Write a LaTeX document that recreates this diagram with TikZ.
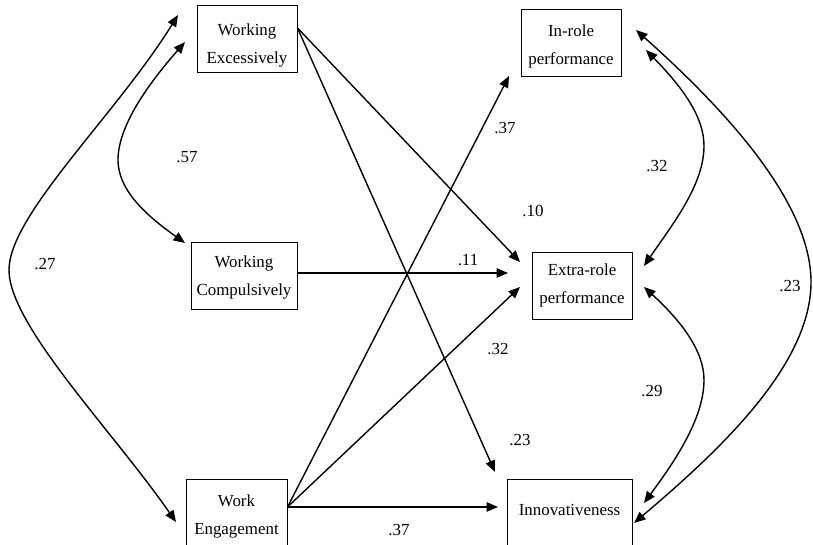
\documentclass[tikz,border=0pt]{standalone}
\usepackage{fontspec}
\setmainfont{Liberation Serif}
\usetikzlibrary{arrows.meta,calc}
\newcommand{\bxt}[2]{\raisebox{-#1pt}[0pt][0pt]{\begin{tabular}{@{}c@{}}#2\end{tabular}}}
\begin{document}
\begin{tikzpicture}[x=1pt,y=-1pt,
  every node/.style={font=\fontsize{16.9}{28}\selectfont},
  box/.style={draw, line width=1pt, inner sep=0pt, minimum height=67pt},
  conn/.style={line width=1.4pt, -{Triangle[length=11.5pt,width=9.5pt]}},
  dconn/.style={line width=1.4pt, {Triangle[length=11.5pt,width=9.5pt]}-{Triangle[length=11.5pt,width=9.5pt]}},
  lab/.style={inner sep=0pt}]
\useasboundingbox (0,0) rectangle (813,545);
% boxes
\node[box, minimum width=100pt] (wex)  at (247,39.5)  {\bxt{9}{Working\\Excessively}};
\node[box, minimum width=106pt, minimum height=66pt] (wc) at (244,276) {\bxt{4}{Working\\Compulsively}};
\node[box, minimum width=101pt] (weng) at (236.5,512.5) {\bxt{6.5}{Work\\Engagement}};
\node[box, minimum width=100pt] (inr)  at (571,43.5)  {\bxt{5.5}{In-role\\performance}};
\node[box, minimum width=100pt] (er)   at (582,285.5) {\bxt{2.5}{Extra-role\\performance}};
\node[box, minimum width=125pt] (inn)  at (569.5,512.5) {\bxt{2}{Innovativeness}};
% free arrow ends
\coordinate (t1) at (520,262);
\coordinate (t2) at (495,472);
\coordinate (t3) at (508,273);
\coordinate (t4) at (509,76);
\coordinate (t5) at (520,287);
\coordinate (t6) at (498,507);
% straight paths
\draw[conn] ([yshift=11.5pt]wex.east) -- (t1);
\draw[conn] ([yshift=11.5pt]wex.east) -- (t2);
\draw[conn] ([yshift=3pt]wc.east) -- (t3);
\draw[conn] ([yshift=5.5pt]weng.east) -- (t4);
\draw[conn] ([yshift=5.5pt]weng.east) -- (t5);
\draw[conn] ([yshift=5.5pt]weng.east) -- (t6);
% curve ends
\coordinate (a1) at (178,15);   \coordinate (a2) at (176,522);
\coordinate (b1) at (185,42);   \coordinate (b2) at (185,243);
\coordinate (c1) at (646,50);   \coordinate (c2) at (644,266);
\coordinate (d1) at (644,287);  \coordinate (d2) at (644,503);
\coordinate (e1) at (636,30);   \coordinate (e2) at (634,523);
% correlations
\draw[dconn] (a1) .. controls (116,115) and (9,215) .. (9,270) .. controls (9,325) and (112,430) .. (a2);
\draw[dconn] (b1) .. controls (150,82) and (118,125) .. (118,160) .. controls (118,192) and (150,218) .. (b2);
\draw[dconn] (c1) .. controls (680,85) and (704,115) .. (704,146) .. controls (704,185) and (672,225) .. (c2);
\draw[dconn] (d1) .. controls (680,320) and (704,350) .. (704,380) .. controls (704,420) and (672,465) .. (d2);
\draw[dconn] (e1) .. controls (720,105) and (811,200) .. (811,282) .. controls (811,365) and (720,450) .. (e2);
% labels
\node[lab] (l27) at (45,264) {.27};
\node[lab] (l57) at (187,157) {.57};
\node[lab] (l37a) at (505,128) {.37};
\node[lab] (l10) at (533,211) {.10};
\node[lab] (l11) at (468,260) {.11};
\node[lab] (l32a) at (498,349) {.32};
\node[lab] (l23a) at (520,440) {.23};
\node[lab] (l37b) at (399,530) {.37};
\node[lab] (l32b) at (657,166) {.32};
\node[lab] (l29) at (652,391) {.29};
\node[lab] (l23b) at (790,286) {.23};
\end{tikzpicture}
\end{document}
